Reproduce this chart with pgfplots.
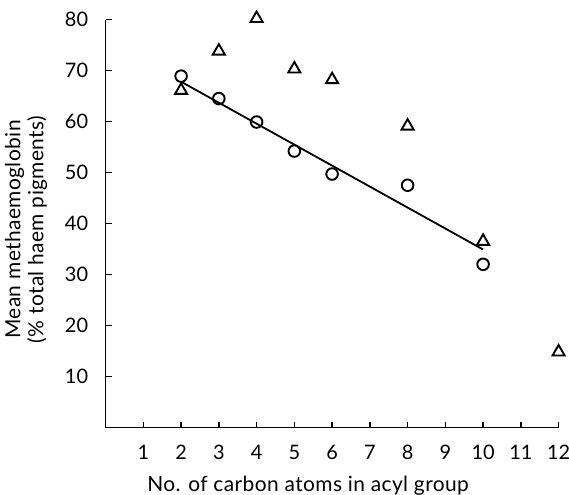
\documentclass[border=0pt]{standalone}
\usepackage{pgfplots}
\pgfplotsset{compat=1.18}
\usepackage{fontspec}
\setmainfont{Lato}
\begin{document}
\begin{tikzpicture}
\begin{axis}[
  at={(0,0)}, anchor=south west,
  scale only axis, width=453bp, height=408bp,
  xmin=0, xmax=12, ymin=0, ymax=80,
  axis x line*=bottom, axis y line*=left,
  axis line style={line width=1.8bp},
  tick align=inside, xtick pos=bottom, ytick pos=left,
  major tick length=6bp,
  tick style={line width=1.5bp, black},
  xtick={1,2,...,12}, ytick={10,20,...,80},
  /pgf/number format/assume math mode=true,
  tick label style={font=\fontsize{20}{22}\selectfont},
  xticklabel style={yshift=-14bp},
  yticklabel style={xshift=-14bp},
  label style={font=\fontsize{21}{23}\selectfont\addfontfeature{LetterSpace=2}},
  xlabel={No. of carbon atoms in acyl group},
  xlabel style={yshift=-10bp, xshift=-24bp},
  ylabel={Mean methaemoglobin\\(\% total haem pigments)},
  ylabel style={align=center, yshift=11bp, xshift=-6bp},
  clip=false,
]
\addplot[only marks, mark=o, mark size=5.8bp, mark options={line width=1.9bp}] coordinates {
(2,68.9) (3,64.5) (4,59.9) (5,54.2) (6,49.7) (8,47.5) (10,32)
};
\addplot[only marks, mark=triangle, mark size=7bp, mark options={line width=1.9bp}] coordinates {
(2,66.1) (3,73.8) (4,80.2) (5,70.3) (6,68.2) (8,59.1) (10,36.5) (12,14.8)
};
\addplot[line width=1.8bp, no marks] coordinates {(2,67.8) (10,34.9)};
\end{axis}
\pgfresetboundingbox
\path[use as bounding box] (-105.6bp,-67.5bp) rectangle (463.4bp,427.5bp);
\end{tikzpicture}
\end{document}
